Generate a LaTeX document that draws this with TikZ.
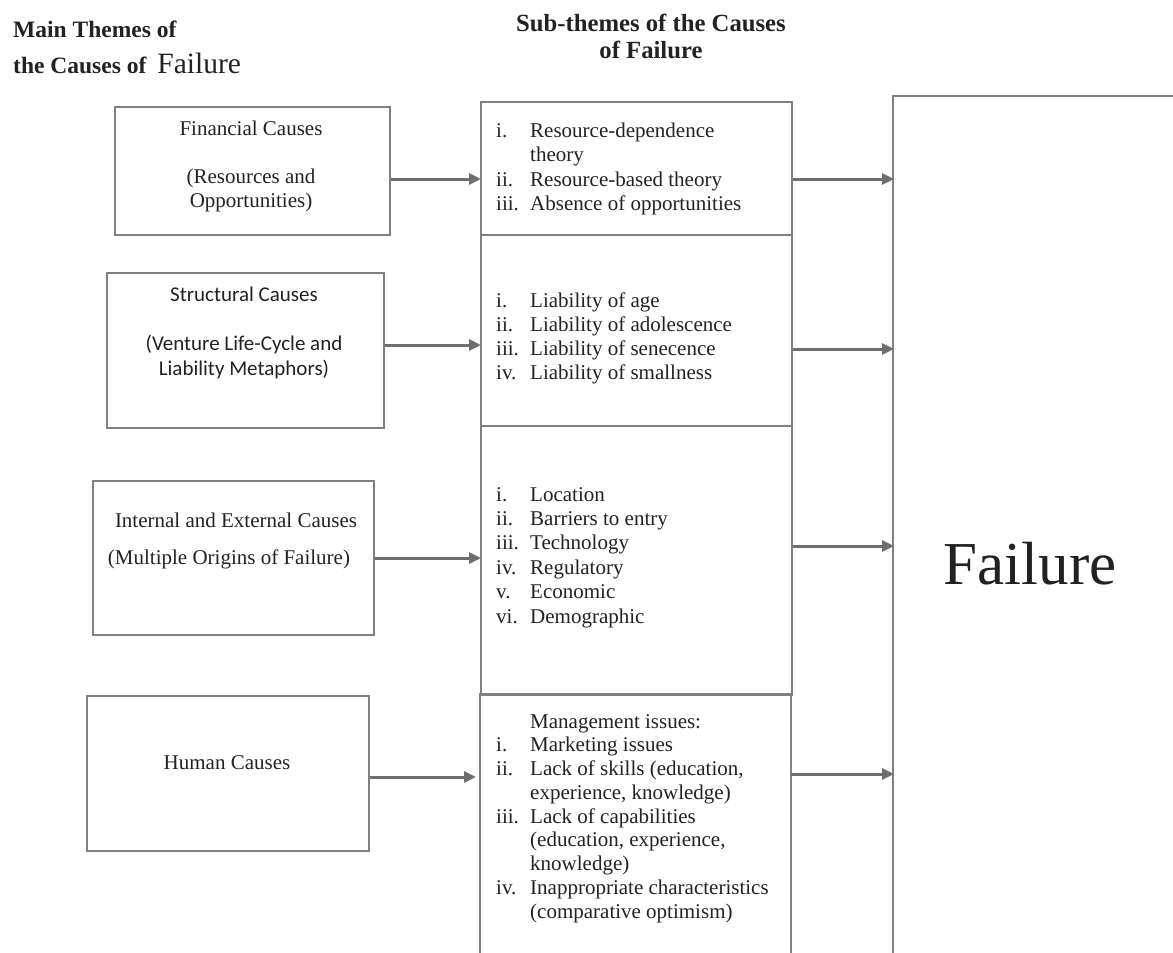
\documentclass[tikz,border=0pt]{standalone}
\usepackage{fontspec}
\setmainfont{Liberation Serif}
\newfontfamily\calfont{Carlito}
\usetikzlibrary{arrows.meta}
\definecolor{boxgray}{HTML}{808080}
\definecolor{arrgray}{HTML}{6E6E6E}
\definecolor{txt}{HTML}{222222}
\tikzset{
  box/.style={draw=boxgray, line width=1.8pt, rectangle, inner sep=0pt, anchor=north west},
  edge/.style={draw=boxgray, line width=1.8pt},
  arr/.style={draw=arrgray, line width=3pt, -{Triangle[length=12pt,width=11pt]}, shorten >=-1pt},
  lbl/.style={inner sep=0pt, text=txt, font=\fontsize{21}{24.5}\selectfont},
  lst/.style={inner sep=0pt, anchor=base west, text=txt},
  hdr/.style={inner sep=0pt, text=txt}
}
\begin{document}
\begin{tikzpicture}[x=1pt,y=-1pt]
\useasboundingbox[fill=white] (0,0) rectangle (1173,953);

% headers
\node[hdr, anchor=base west] (h1a) at (13,37) {\bfseries\fontsize{23.5}{27}\selectfont Main Themes of};
\node[hdr, anchor=base west] (h1b) at (13,73) {\bfseries\fontsize{23.5}{27}\selectfont the Causes of\hspace{11pt}\mdseries\fontsize{29.5}{34}\selectfont Failure};
\node[hdr, anchor=base] (h2a) at (651,31) {\bfseries\fontsize{24.7}{28}\selectfont Sub-themes of the Causes};
\node[hdr, anchor=base] (h2b) at (651,58) {\bfseries\fontsize{24.7}{28}\selectfont of Failure};

% left boxes
\node[box, minimum width=275pt, minimum height=128pt] (f1) at (114,106) {};
\node[box, minimum width=277pt, minimum height=155pt] (f2) at (106,272) {};
\node[box, minimum width=281pt, minimum height=154pt] (f3) at (92,480) {};
\node[box, minimum width=282pt, minimum height=155pt] (f4) at (86,695) {};

\node[lbl, anchor=base] (t1a) at (251,135) {Financial Causes};
\node[lbl, anchor=base] (t1b) at (251,183) {(Resources and};
\node[lbl, anchor=base] (t1c) at (251,207) {Opportunities)};

\node[lbl, anchor=base, font=\calfont\fontsize{21}{24.5}\selectfont] (t2a) at (244,301) {Structural Causes};
\node[lbl, anchor=base, font=\calfont\fontsize{21}{24.5}\selectfont] (t2b) at (244,350) {(Venture Life-Cycle and};
\node[lbl, anchor=base, font=\calfont\fontsize{21}{24.5}\selectfont] (t2c) at (244,375) {Liability Metaphors)};

\node[lbl, anchor=base] (t3a) at (236,527) {Internal and External Causes};
\node[lbl, anchor=base] (t3b) at (229,564) {(Multiple Origins of Failure)};

\node[lbl, anchor=base] (t4a) at (227,769) {Human Causes};

% middle column
\node[box, minimum width=311pt, minimum height=133pt] (m1) at (480,101) {};
\node[box, minimum width=311pt, minimum height=191pt] (m2) at (480,234) {};
\node[box, minimum width=311pt, minimum height=269pt] (m3) at (480,425) {};
\coordinate (m4nw) at (480,694);
\coordinate (m4ne) at (791,694);
\draw[edge] (480,953) -- (m4nw) -- (m4ne) -- (791,953);

\node[lst] (l1) at (496,137) {\fontsize{21}{24.5}\selectfont
\begin{tabular}[t]{@{}p{34pt}@{}l@{}}
i. & Resource-dependence\\
   & theory\\
ii. & Resource-based theory\\
iii. & Absence of opportunities
\end{tabular}};

\node[lst] (l2) at (496,307) {\fontsize{21}{24}\selectfont
\begin{tabular}[t]{@{}p{34pt}@{}l@{}}
i. & Liability of age\\
ii. & Liability of adolescence\\
iii. & Liability of senecence\\
iv. & Liability of smallness
\end{tabular}};

\node[lst] (l3) at (496,501) {\fontsize{21}{24.4}\selectfont
\begin{tabular}[t]{@{}p{34pt}@{}l@{}}
i. & Location\\
ii. & Barriers to entry\\
iii. & Technology\\
iv. & Regulatory\\
v. & Economic\\
vi. & Demographic
\end{tabular}};

\node[lst] (l4) at (496,728) {\fontsize{21}{23.75}\selectfont
\begin{tabular}[t]{@{}p{34pt}@{}l@{}}
 & Management issues:\\
i. & Marketing issues\\
ii. & Lack of skills (education,\\
 & experience, knowledge)\\
iii. & Lack of capabilities\\
 & (education, experience,\\
 & knowledge)\\
iv. & Inappropriate characteristics\\
 & (comparative optimism)
\end{tabular}};

% right box
\coordinate (rtop) at (1173,96);
\coordinate (rbot) at (893,953);
\draw[edge] (rtop) -| (rbot);
\node[hdr, anchor=base] (fail) at (1030,584) {\fontsize{61}{70}\selectfont Failure};

% arrows left -> middle
\draw[arr] (f1.east |- 0,179) -- (m1.west |- 0,179);
\draw[arr] (f2.east |- 0,345) -- (m2.west |- 0,345);
\draw[arr] (f3.east |- 0,558) -- (m3.west |- 0,558);
\draw[arr] (f4.east |- 0,777) -- ([xshift=-5pt]m4nw |- 0,777);

% arrows middle -> failure
\draw[arr] (m1.east |- 0,179) -- (rbot |- 0,179);
\draw[arr] (m2.east |- 0,349) -- (rbot |- 0,349);
\draw[arr] (m3.east |- 0,546) -- (rbot |- 0,546);
\draw[arr] (m4ne |- 0,774) -- (rbot |- 0,774);
\end{tikzpicture}
\end{document}
